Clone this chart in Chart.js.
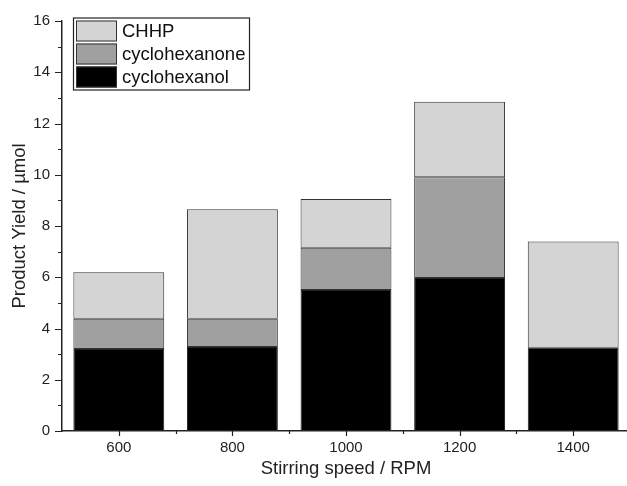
<!DOCTYPE html>
<html>
<head>
<meta charset="utf-8">
<script src="https://cdn.jsdelivr.net/npm/chart.js@4"></script>
<style>
  html, body { margin: 0; padding: 0; background: #fff; overflow: hidden; }
  #wrap { width: 630px; height: 486px; }
</style>
</head>
<body>
<div id="wrap"><canvas id="chart" width="630" height="486"></canvas></div>
<script>
// data (µmol)
const speeds = ['600', '800', '1000', '1200', '1400'];
const cyclohexanol = [3.2, 3.28, 5.5, 5.97, 3.25];
const cyclohexanone = [1.18, 1.1, 1.65, 3.93, 0];
const chhp = [1.82, 4.27, 1.9, 2.95, 4.15];
const yTicks = [0, 2, 4, 6, 8, 10, 12, 14, 16];

const FONT = "'Liberation Sans', Arial, sans-serif";

// tick marks (major + minor) drawn along the library scales
const tickMarks = {
  id: 'tickMarks',
  afterDraw(chart) {
    const ctx = chart.ctx;
    const x = chart.scales.x, y = chart.scales.y;
    const axX = chart.chartArea.left, axY = chart.chartArea.bottom;
    ctx.save();
    ctx.strokeStyle = '#222';
    ctx.lineWidth = 1.2;
    ctx.beginPath();
    for (let v = 0; v <= 16; v++) {
      const py = Math.round(y.getPixelForValue(v)) + 0.5;
      const len = v % 2 === 0 ? 7 : 4;
      ctx.moveTo(axX - len, py);
      ctx.lineTo(axX, py);
    }
    for (let i = 0; i < speeds.length; i++) {
      const px = Math.round(x.getPixelForValue(i)) + 0.5;
      ctx.moveTo(px, axY);
      ctx.lineTo(px, axY + 5);
      const mx = Math.round(x.getPixelForValue(i + 0.5)) + 0.5;
      ctx.moveTo(mx, axY);
      ctx.lineTo(mx, axY + 3);
    }
    ctx.stroke();
    ctx.restore();
  }
};

// boxed legend inside the plot, top-left
const boxLegend = {
  id: 'boxLegend',
  afterDraw(chart) {
    const ctx = chart.ctx;
    const items = chart.data.datasets.slice().reverse();
    const bx = 73, by = 17.5, bw = 176, bh = 72;
    ctx.save();
    ctx.fillStyle = '#fff';
    ctx.fillRect(bx, by, bw, bh);
    ctx.strokeStyle = '#222';
    ctx.lineWidth = 1.2;
    ctx.strokeRect(bx + 0.5, by + 0.5, bw, bh);
    ctx.font = '18.5px ' + FONT;
    ctx.textBaseline = 'middle';
    items.forEach((ds, i) => {
      const sy = by + 3 + i * 23;
      ctx.fillStyle = ds.backgroundColor;
      ctx.fillRect(bx + 3, sy, 41, 21);
      ctx.strokeStyle = '#333';
      ctx.lineWidth = 1;
      ctx.strokeRect(bx + 3.5, sy + 0.5, 40, 20);
      ctx.fillStyle = '#111';
      ctx.fillText(ds.label, bx + 49, sy + 11);
    });
    ctx.restore();
  }
};

new Chart(document.getElementById('chart'), {
  type: 'bar',
  data: {
    labels: speeds,
    datasets: [
      { label: 'cyclohexanol', data: cyclohexanol, backgroundColor: '#000000', borderColor: '#222', borderWidth: 1, borderSkipped: false },
      { label: 'cyclohexanone', data: cyclohexanone, backgroundColor: '#a0a0a0', borderColor: '#333', borderWidth: 1, borderSkipped: false },
      { label: 'CHHP', data: chhp, backgroundColor: '#d3d4d3', borderColor: '#333', borderWidth: 1, borderSkipped: false }
    ]
  },
  options: {
    responsive: false,
    animation: false,
    barPercentage: 0.8,
    categoryPercentage: 1.0,
    layout: { padding: { top: 20, right: 0, left: 0, bottom: 0 } },
    plugins: { legend: { display: false }, tooltip: { enabled: false } },
    scales: {
      x: {
        stacked: true,
        grid: { display: false, drawTicks: false },
        border: { display: true, color: '#222', width: 1.5 },
        ticks: { color: '#222', padding: 8, font: { family: FONT, size: 15 } },
        title: { display: true, text: 'Stirring speed / RPM', color: '#222', padding: { top: 0, bottom: 6 }, font: { family: FONT, size: 18.5 } },
        afterFit(scale) { scale.height = 55; }
      },
      y: {
        stacked: true,
        min: 0,
        max: 16,
        afterBuildTicks(scale) { scale.ticks = yTicks.map(v => ({ value: v })); },
        grid: { display: false, drawTicks: false },
        border: { display: true, color: '#222', width: 1.5 },
        ticks: { color: '#222', padding: 12, font: { family: FONT, size: 15 } },
        title: { display: true, text: 'Product Yield / µmol', color: '#222', padding: { top: 8.5, bottom: 0 }, font: { family: FONT, size: 18.5 } },
        afterFit(scale) { scale.width = 62; }
      }
    }
  },
  plugins: [tickMarks, boxLegend]
});
</script>
</body>
</html>
